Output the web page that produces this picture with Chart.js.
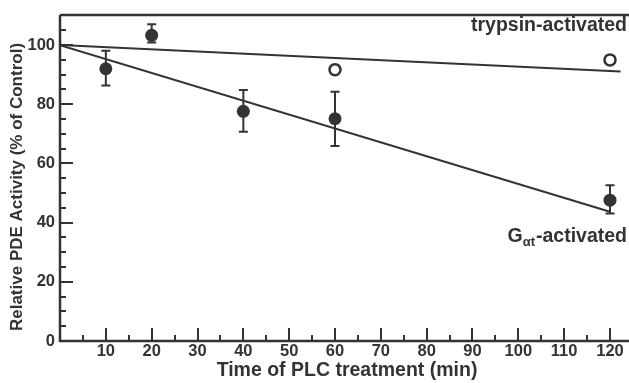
<!DOCTYPE html>
<html>
<head>
<meta charset="utf-8">
<script src="https://cdn.jsdelivr.net/npm/chart.js@4"></script>
<style>
  html, body { margin: 0; padding: 0; background: #fff; }
  #wrap { width: 629px; height: 383px; position: relative; }
</style>
</head>
<body>
<div id="wrap"><canvas id="c" width="629" height="383"></canvas></div>
<script>
// ---- data ----
const times      = [10, 20, 40, 60, 120];
const gatMean    = [92, 103.3, 77.6, 75.1, 47.6];
const gatLow     = [86.3, 100.9, 70.7, 65.9, 43.1];
const gatHigh    = [98.1, 107, 84.8, 84.2, 52.6];
const trypTimes  = [60, 120];
const trypMean   = [91.7, 95];
const gatFitX    = [0, 120];
const gatFitY    = [100, 43.7];
const trypFitX   = [0, 122.3];
const trypFitY   = [100, 91.1];
const xTicks     = [10, 20, 30, 40, 50, 60, 70, 80, 90, 100, 110, 120];
const yTicks     = [0, 20, 40, 60, 80, 100];
const xTitle     = 'Time of PLC treatment (min)';
const yTitle     = 'Relative PDE Activity (% of Control)';
const labelTryp  = 'trypsin-activated';
const labelGat   = ['G', 'αt', '-activated'];

const INK = '#333333';
const FONT = '"Liberation Sans", Arial, sans-serif';

const pts = (xs, ys) => xs.map((x, i) => ({ x: x, y: ys[i] }));

const decor = {
  id: 'decor',
  beforeDatasetsDraw(chart) {
    const ctx = chart.ctx, xs = chart.scales.x, ys = chart.scales.y, a = chart.chartArea;
    ctx.save();
    ctx.strokeStyle = INK;
    ctx.lineCap = 'butt';
    // frame lines
    ctx.lineWidth = 2.5;
    ctx.beginPath();
    ctx.moveTo(a.left, a.top); ctx.lineTo(chart.width, a.top);
    ctx.moveTo(a.left, a.top); ctx.lineTo(a.left, a.bottom);
    ctx.moveTo(a.left - 1.2, a.bottom); ctx.lineTo(chart.width, a.bottom);
    ctx.stroke();
    // inward tick marks
    ctx.lineWidth = 2;
    ctx.beginPath();
    for (let v = 5; v <= 120; v += 5) {
      const px = Math.round(xs.getPixelForValue(v));
      const len = v % 10 === 0 ? 13 : 6;
      ctx.moveTo(px, a.bottom); ctx.lineTo(px, a.bottom - len);
    }
    for (let v = 5; v <= 105; v += 5) {
      const py = Math.round(ys.getPixelForValue(v));
      const len = v % 20 === 0 ? 13 : 6;
      ctx.moveTo(a.left, py); ctx.lineTo(a.left + len, py);
    }
    ctx.stroke();
    // error bars
    ctx.lineWidth = 2;
    ctx.beginPath();
    times.forEach((t, i) => {
      const px = xs.getPixelForValue(t);
      const y1 = ys.getPixelForValue(gatLow[i]);
      const y2 = ys.getPixelForValue(gatHigh[i]);
      ctx.moveTo(px, y1); ctx.lineTo(px, y2);
      ctx.moveTo(px - 4.5, y1); ctx.lineTo(px + 4.5, y1);
      ctx.moveTo(px - 4.5, y2); ctx.lineTo(px + 4.5, y2);
    });
    ctx.stroke();
    ctx.restore();
  },
  afterDraw(chart) {
    const ctx = chart.ctx;
    ctx.save();
    ctx.fillStyle = INK;
    // axis titles
    ctx.font = 'bold 19.5px ' + FONT;
    ctx.textAlign = 'center';
    ctx.textBaseline = 'middle';
    ctx.fillText(xTitle, 347, 371);
    ctx.save();
    ctx.translate(17, 187);
    ctx.rotate(-Math.PI / 2);
    ctx.font = 'bold 17px ' + FONT;
    ctx.fillText(yTitle, 0, 0);
    ctx.restore();
    // annotations
    ctx.font = 'bold 19.5px ' + FONT;
    ctx.textAlign = 'right';
    ctx.textBaseline = 'middle';
    ctx.fillText(labelTryp, 627, 26);
    // G alpha t - activated
    ctx.textAlign = 'left';
    ctx.textBaseline = 'alphabetic';
    const big = 'bold 19.5px ' + FONT, small = 'bold 13px ' + FONT;
    ctx.font = big; const w1 = ctx.measureText(labelGat[0]).width;
    ctx.font = small; const w2 = ctx.measureText(labelGat[1]).width;
    ctx.font = big; const w3 = ctx.measureText(labelGat[2]).width;
    const x0 = 627 - (w1 + w2 + w3 + 1);
    const base = 242;
    ctx.font = big; ctx.fillText(labelGat[0], x0, base);
    ctx.font = small; ctx.fillText(labelGat[1], x0 + w1, base + 4);
    ctx.font = big; ctx.fillText(labelGat[2], x0 + w1 + w2 + 1, base);
    ctx.restore();
  }
};

new Chart(document.getElementById('c'), {
  type: 'scatter',
  data: {
    datasets: [
      { data: pts(gatFitX, gatFitY), showLine: true, borderColor: INK, borderWidth: 2, pointRadius: 0, fill: false },
      { data: pts(trypFitX, trypFitY), showLine: true, borderColor: INK, borderWidth: 2, pointRadius: 0, fill: false },
      { data: pts(times, gatMean), showLine: false, pointRadius: 6.5, pointBackgroundColor: INK, pointBorderColor: INK, pointBorderWidth: 0 },
      { data: pts(trypTimes, trypMean), showLine: false, pointRadius: 5.5, pointBackgroundColor: '#fff', pointBorderColor: INK, pointBorderWidth: 2.5 }
    ]
  },
  options: {
    responsive: false,
    animation: false,
    devicePixelRatio: 1,
    layout: { padding: { top: 10, right: 6, left: 0, bottom: 0 } },
    plugins: { legend: { display: false }, tooltip: { enabled: false }, title: { display: false } },
    elements: { line: { tension: 0 } },
    scales: {
      x: {
        type: 'linear', min: 0, max: 122.4,
        grid: { display: false, drawTicks: false },
        border: { display: false },
        afterFit: s => { s.height = 42; },
        afterBuildTicks: s => { s.ticks = xTicks.map(v => ({ value: v })); },
        ticks: { color: INK, font: { family: FONT, size: 16.5, weight: 'bold' }, padding: 1, maxRotation: 0, autoSkip: false }
      },
      y: {
        type: 'linear', min: 0, max: 110.2,
        grid: { display: false, drawTicks: false },
        border: { display: false },
        afterFit: s => { s.width = 60; },
        afterBuildTicks: s => { s.ticks = yTicks.map(v => ({ value: v })); },
        ticks: { color: INK, font: { family: FONT, size: 16.5, weight: 'bold' }, padding: 5, autoSkip: false }
      }
    }
  },
  plugins: [decor]
});
</script>
</body>
</html>
